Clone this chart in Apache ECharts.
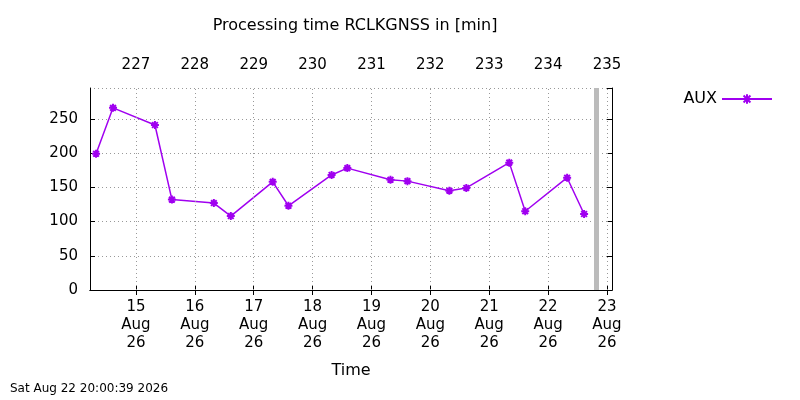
<!DOCTYPE html><html><head><meta charset="utf-8"><script src="https://cdn.jsdelivr.net/npm/echarts@6/dist/echarts.min.js"></script></head><body style="margin:0"><div id="c" style="width:800px;height:400px"></div><script>
var times=["08-14 07:45","08-14 14:40","08-15 07:45","08-15 14:40","08-16 07:45","08-16 14:40","08-17 07:45","08-17 14:10","08-18 07:45","08-18 14:10","08-19 07:45","08-19 14:40","08-20 07:45","08-20 14:40","08-21 08:10","08-21 14:40","08-22 07:45","08-22 14:40"];
var aux=[199,266,241,132,127,108,158,123,168,178,161,159,145,149,186,115,164,111];
var dayTicks=[15,16,17,18,19,20,21,22,23];
var doyLabels=["227","228","229","230","231","232","233","234","235"];
var nowMark=22.82;
function toDay(s){var p=s.split(/[- :]/);return +p[1]+(+p[2])/24+(+p[3])/1440;}
var data=times.map(function(t,i){return [toDay(t),aux[i]];});
var ch=echarts.init(document.getElementById('c'));
var f='DejaVu Sans';
var xBase={type:'value',min:14.22,max:23.085,axisLine:{lineStyle:{color:'#000'}},
 axisTick:{customValues:dayTicks,inside:true,length:5,lineStyle:{color:'#000'}},
 splitLine:{show:false},axisLabel:{customValues:dayTicks,color:'#000',fontFamily:f,fontSize:15,lineHeight:18}};
ch.setOption({animation:false,
 title:{text:'Processing time RCLKGNSS in [min]',left:350,textAlign:'center',top:13,textStyle:{fontFamily:f,fontSize:16,fontWeight:'normal',color:'#000'}},
 legend:{right:22,top:86,itemWidth:50,itemHeight:12,textStyle:{fontFamily:f,fontSize:16,color:'#000'},align:'right',data:['AUX']},
 graphic:[{type:'text',left:10,top:383,style:{text:'Sat Aug 22 20:00:39 2026',font:'12px DejaVu Sans',fill:'#000'}}],
 grid:{left:90,right:188,top:88,bottom:110},
 xAxis:[Object.assign({},xBase,{position:'bottom',name:'Time',nameLocation:'middle',nameGap:73,nameTextStyle:{fontFamily:f,fontSize:16,color:'#000'},
   axisLabel:Object.assign({},xBase.axisLabel,{formatter:function(v){return Math.round(v)+'\nAug\n26';}})}),
  Object.assign({},xBase,{position:'top',axisLabel:Object.assign({},xBase.axisLabel,{margin:14,formatter:function(v){return doyLabels[dayTicks.indexOf(Math.round(v))];}})})],
 yAxis:[{type:'value',min:0,max:295,interval:50,axisLine:{show:true,lineStyle:{color:'#000'}},axisTick:{show:true,inside:true,length:5,lineStyle:{color:'#000'}},
   axisLabel:{color:'#000',fontFamily:f,fontSize:15,margin:12,showMaxLabel:false},splitLine:{lineStyle:{color:'#999',type:[1,3]}}},
  {type:'value',min:0,max:295,interval:50,position:'right',axisLine:{show:true,lineStyle:{color:'#000'}},axisTick:{show:true,inside:true,length:5,lineStyle:{color:'#000'}},axisLabel:{show:false},splitLine:{show:false}}],
 series:[{name:'AUX',type:'line',data:data,color:'#a000f0',symbol:'path://M-1,-1L1,1M-1,1L1,-1M0,-1.4L0,1.4M-1.4,0L1.4,0',symbolSize:8,
   itemStyle:{color:'#a000f0',borderColor:'#a000f0',borderWidth:2},lineStyle:{width:1.5},
   markLine:{symbol:'none',silent:true,label:{show:false},data:dayTicks.map(function(d){return {xAxis:d,lineStyle:{color:'#999',type:[1,3],width:1}};}).concat([{xAxis:nowMark,lineStyle:{color:'#bbb',type:'solid',width:5}}])}}]
});
</script></body></html>
